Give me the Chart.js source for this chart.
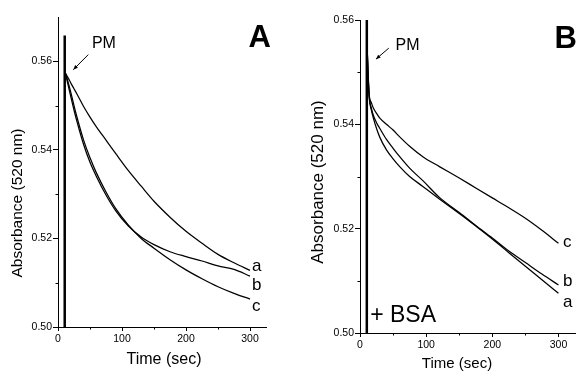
<!DOCTYPE html>
<html>
<head>
<meta charset="utf-8">
<script src="https://cdn.jsdelivr.net/npm/chart.js@4.4.1/dist/chart.umd.min.js"></script>
<style>
  html, body { margin: 0; padding: 0; background: #fff; }
  #wrap { position: relative; width: 576px; height: 383px; }
  .panel { position: absolute; top: 0; }
  #panelA { left: 0; }
  #panelB { left: 290px; }
</style>
</head>
<body>
<div id="wrap">
  <div class="panel" id="panelA"><canvas id="chartA" width="290" height="383"></canvas></div>
  <div class="panel" id="panelB"><canvas id="chartB" width="286" height="383"></canvas></div>
</div>
<script>
// ---- data ----
// time axis (sec) and absorbance at 520 nm
const xTicks = [0, 100, 200, 300];
const xMinor = [50, 150, 250];
const yTicks = [0.50, 0.52, 0.54, 0.56];
const yMinor = [0.51, 0.53, 0.55];

// panel A
const timeA = [12, 16, 20, 25, 30, 40, 50, 60, 75, 90, 110, 130, 150, 175, 200, 225, 250, 275, 300];
const absA_a = [0.5572, 0.5562, 0.5551, 0.5538, 0.5525, 0.5498, 0.5474, 0.5452, 0.5422, 0.5392, 0.5353, 0.5318, 0.5284, 0.5248, 0.5216, 0.5189, 0.5164, 0.5145, 0.5128];
const absA_b = [0.5570, 0.5545, 0.5520, 0.5490, 0.5462, 0.5412, 0.5372, 0.5340, 0.5298, 0.5263, 0.5228, 0.5203, 0.5186, 0.5170, 0.5159, 0.5149, 0.5138, 0.5130, 0.5115];
const absA_c = [0.5572, 0.5552, 0.5530, 0.5500, 0.5472, 0.5422, 0.5382, 0.5348, 0.5305, 0.5268, 0.5230, 0.5200, 0.5178, 0.5152, 0.5129, 0.5109, 0.5091, 0.5076, 0.5063];
const spikeA_t = [10.5, 10.5];
const spikeA_v = [0.50, 0.5658];

// panel B (+ BSA)
const timeB = [11, 12, 14, 17, 20, 25, 30, 40, 50, 60, 75, 95, 120, 150, 175, 200, 225, 250, 275, 300];
const absB_a = [0.5540, 0.5500, 0.5450, 0.5428, 0.5413, 0.5392, 0.5375, 0.5351, 0.5334, 0.5319, 0.5300, 0.5281, 0.5257, 0.5229, 0.5205, 0.5180, 0.5154, 0.5128, 0.5102, 0.5076];
const absB_b = [0.5540, 0.5505, 0.5453, 0.5432, 0.5418, 0.5403, 0.5392, 0.5371, 0.5354, 0.5338, 0.5316, 0.5292, 0.5260, 0.5231, 0.5206, 0.5182, 0.5157, 0.5135, 0.5113, 0.5092];
const absB_c = [0.5540, 0.5505, 0.5455, 0.5442, 0.5432, 0.5421, 0.5412, 0.5400, 0.5389, 0.5376, 0.5358, 0.5338, 0.5319, 0.5297, 0.5278, 0.5259, 0.5240, 0.5220, 0.5197, 0.5172];
const spikeB_t = [10.3, 10.3];
const spikeB_v = [0.50, 0.56];

const FONT = '"Liberation Sans", Arial, Helvetica, sans-serif';

function pts(ts, vs) {
    return ts.map((t, i) => ({ x: t, y: vs[i] }));
}

function curve(ts, vs) {
    return {
        data: pts(ts, vs),
        borderColor: "#000",
        borderWidth: 1.25,
        pointRadius: 0,
        cubicInterpolationMode: "monotone",
        fill: false
    };
}

function spike(ts, vs) {
    return {
        data: pts(ts, vs),
        borderColor: "#000",
        borderWidth: 2.5,
        pointRadius: 0,
        tension: 0,
        fill: false
    };
}

/**
 * minor ticks + text notes + arrows + axis titles
 */
const notesPlugin = {
    id: "notes",
    afterDraw(chart, args, opts) {
        const { ctx, chartArea } = chart;
        const x = chart.scales.x, y = chart.scales.y;
        ctx.save();
        ctx.fillStyle = "#000";
        ctx.strokeStyle = "#000";
        ctx.lineWidth = 1;

        // minor ticks
        (opts.xMinor || []).forEach(v => {
            const px = Math.round(x.getPixelForValue(v)) + 0.5;
            ctx.beginPath();
            ctx.moveTo(px, chartArea.bottom);
            ctx.lineTo(px, chartArea.bottom + 2.5);
            ctx.stroke();
        });
        (opts.yMinor || []).forEach(v => {
            const py = Math.round(y.getPixelForValue(v)) + 0.5;
            ctx.beginPath();
            ctx.moveTo(chartArea.left, py);
            ctx.lineTo(chartArea.left - 2.5, py);
            ctx.stroke();
        });

        // texts anchored in data units
        ctx.textBaseline = "middle";
        (opts.texts || []).forEach(n => {
            ctx.font = n.font;
            ctx.textAlign = n.align || "left";
            ctx.fillText(n.text, x.getPixelForValue(n.t), y.getPixelForValue(n.v));
        });

        // arrows
        (opts.arrows || []).forEach(a => {
            const x1 = x.getPixelForValue(a.from[0]), y1 = y.getPixelForValue(a.from[1]);
            const x2 = x.getPixelForValue(a.to[0]), y2 = y.getPixelForValue(a.to[1]);
            const ang = Math.atan2(y2 - y1, x2 - x1);
            ctx.beginPath();
            ctx.moveTo(x1, y1);
            ctx.lineTo(x2, y2);
            ctx.stroke();
            ctx.beginPath();
            ctx.moveTo(x2, y2);
            ctx.lineTo(x2 - 5 * Math.cos(ang - 0.4), y2 - 5 * Math.sin(ang - 0.4));
            ctx.lineTo(x2 - 5 * Math.cos(ang + 0.4), y2 - 5 * Math.sin(ang + 0.4));
            ctx.closePath();
            ctx.fill();
        });

        // axis titles
        if (opts.xTitle) {
            ctx.font = opts.xTitle.font;
            ctx.textAlign = "center";
            ctx.fillText(opts.xTitle.text, opts.xTitle.cx, opts.xTitle.cy);
        }
        if (opts.yTitle) {
            ctx.translate(opts.yTitle.cx, opts.yTitle.cy);
            ctx.rotate(-Math.PI / 2);
            ctx.font = opts.yTitle.font;
            ctx.textAlign = "center";
            ctx.fillText(opts.yTitle.text, 0, 0);
        }
        ctx.restore();
    }
};

function axes(yMax, yWidth, xHeight, tickSize) {
    return {
        x: {
            type: "linear",
            min: 0,
            max: 325,
            afterBuildTicks: s => { s.ticks = xTicks.map(v => ({ value: v })); },
            afterFit: s => { s.height = xHeight; },
            ticks: {
                color: "#000",
                font: { family: FONT, size: tickSize },
                padding: 2,
                maxRotation: 0,
                callback: v => String(v)
            },
            grid: { drawOnChartArea: false, tickLength: 4, color: "#000" },
            border: { color: "#000", width: 1 }
        },
        y: {
            type: "linear",
            min: 0.50,
            max: yMax,
            afterBuildTicks: s => { s.ticks = yTicks.map(v => ({ value: v })); },
            afterFit: s => { s.width = yWidth; },
            ticks: {
                color: "#000",
                font: { family: FONT, size: tickSize },
                padding: 1,
                callback: v => Number(v).toFixed(2)
            },
            grid: { drawOnChartArea: false, tickLength: 5, color: "#000" },
            border: { color: "#000", width: 1 }
        }
    };
}

const commonPlugins = {
    legend: { display: false },
    tooltip: { enabled: false }
};

// ---- Panel A ----
new Chart(document.getElementById("chartA"), {
    type: "line",
    data: {
        datasets: [
            spike(spikeA_t, spikeA_v),
            curve(timeA, absA_a),
            curve(timeA, absA_b),
            curve(timeA, absA_c)
        ]
    },
    options: {
        responsive: false,
        animation: false,
        layout: { padding: { top: 17, right: 24, left: 0, bottom: 0 } },
        scales: axes(0.57, 58, 56, 10.5),
        plugins: Object.assign({}, commonPlugins, {
            notes: {
                xMinor: xMinor,
                yMinor: yMinor,
                texts: [
                    { text: "A", t: 315, v: 0.5651, font: "bold 31px " + FONT, align: "center" },
                    { text: "PM", t: 53, v: 0.5640, font: "16px " + FONT },
                    { text: "a", t: 303, v: 0.5136, font: "17px " + FONT },
                    { text: "b", t: 303, v: 0.5095, font: "17px " + FONT },
                    { text: "c", t: 303, v: 0.5047, font: "17px " + FONT }
                ],
                arrows: [{ from: [47.3, 0.5615], to: [23.9, 0.5581] }],
                xTitle: { text: "Time (sec)", cx: 164, cy: 360, font: "16px " + FONT },
                yTitle: { text: "Absorbance (520 nm)", cx: 18, cy: 203, font: "15.5px " + FONT }
            }
        })
    },
    plugins: [notesPlugin]
});

// ---- Panel B ----
new Chart(document.getElementById("chartB"), {
    type: "line",
    data: {
        datasets: [
            spike(spikeB_t, spikeB_v),
            curve(timeB, absB_a),
            curve(timeB, absB_b),
            curve(timeB, absB_c)
        ]
    },
    options: {
        responsive: false,
        animation: false,
        layout: { padding: { top: 20, right: 1, left: 0, bottom: 0 } },
        scales: axes(0.56, 70, 50, 10.5),
        plugins: Object.assign({}, commonPlugins, {
            notes: {
                xMinor: xMinor,
                yMinor: yMinor,
                texts: [
                    { text: "B", t: 311, v: 0.5562, font: "bold 31px " + FONT, align: "center" },
                    { text: "PM", t: 53.8, v: 0.5550, font: "16px " + FONT },
                    { text: "+ BSA", t: 15.4, v: 0.5033, font: "23px " + FONT },
                    { text: "c", t: 307, v: 0.5173, font: "17px " + FONT },
                    { text: "b", t: 307, v: 0.5100, font: "17px " + FONT },
                    { text: "a", t: 307, v: 0.5059, font: "17px " + FONT }
                ],
                arrows: [{ from: [43.5, 0.5546], to: [24.1, 0.5525] }],
                xTitle: { text: "Time (sec)", cx: 167, cy: 364, font: "15px " + FONT },
                yTitle: { text: "Absorbance (520 nm)", cx: 28, cy: 182, font: "17px " + FONT }
            }
        })
    },
    plugins: [notesPlugin]
});
</script>
</body>
</html>
